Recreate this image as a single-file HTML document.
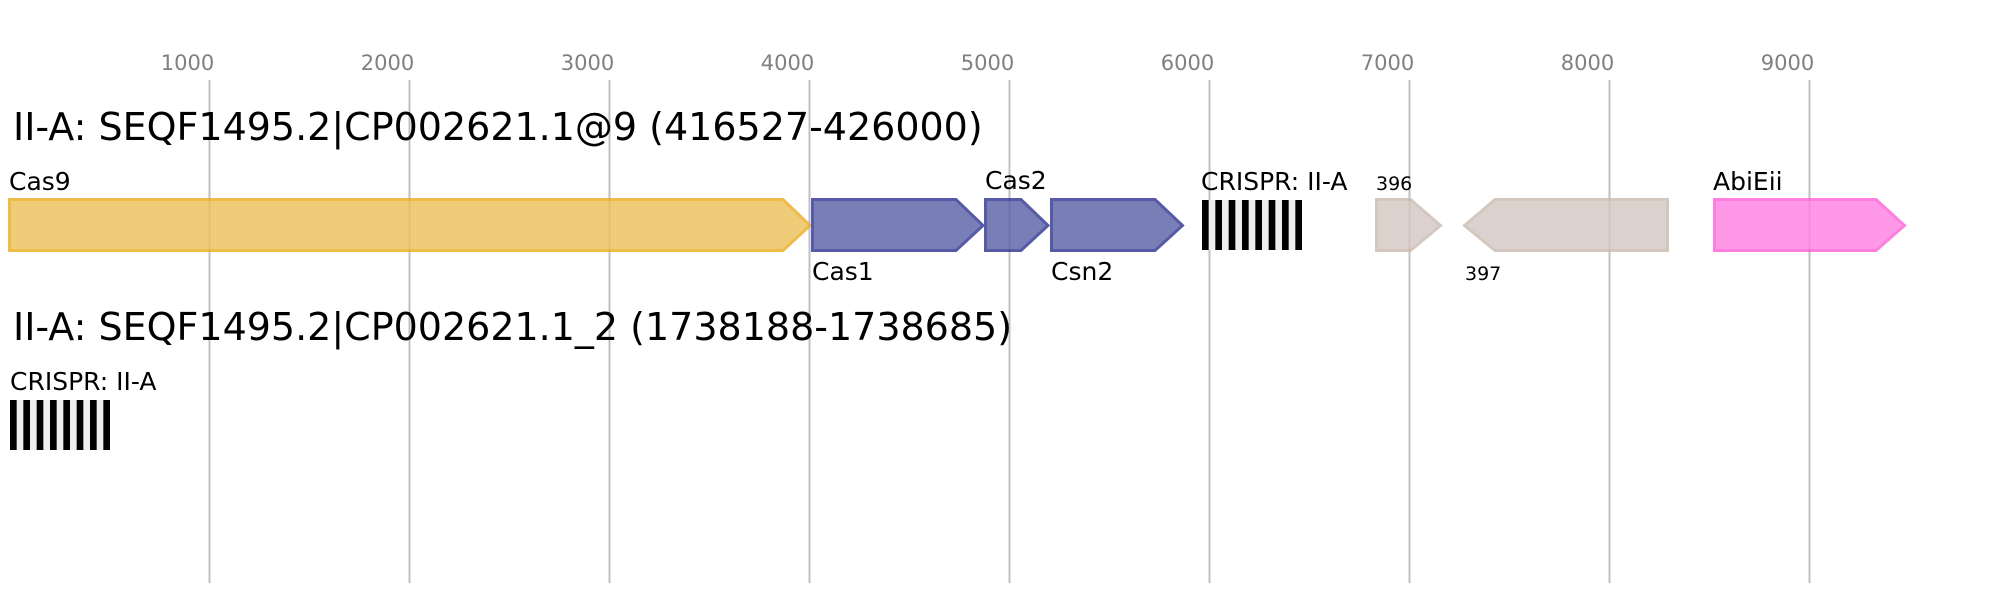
<!DOCTYPE html>
<html>
<head>
<meta charset="utf-8">
<style>
html,body{margin:0;padding:0;background:#fff;}
svg{display:block;}
text{font-family:"DejaVu Sans","Liberation Sans",sans-serif;}
</style>
</head>
<body>
<svg width="1995" height="600" viewBox="0 0 1995 600" xmlns="http://www.w3.org/2000/svg">
<rect width="1995" height="600" fill="#ffffff"/>
<!-- grid -->
<g stroke="#c0c0c0" stroke-width="2">
<line x1="209.5" y1="80" x2="209.5" y2="583"/>
<line x1="409.5" y1="80" x2="409.5" y2="583"/>
<line x1="609.5" y1="80" x2="609.5" y2="583"/>
<line x1="809.5" y1="80" x2="809.5" y2="583"/>
<line x1="1009.5" y1="80" x2="1009.5" y2="583"/>
<line x1="1209.5" y1="80" x2="1209.5" y2="583"/>
<line x1="1409.5" y1="80" x2="1409.5" y2="583"/>
<line x1="1609.5" y1="80" x2="1609.5" y2="583"/>
<line x1="1809.5" y1="80" x2="1809.5" y2="583"/>
</g>
<g fill="#808080" font-size="21" text-anchor="middle">
<text x="187.5" y="70">1000</text>
<text x="387.5" y="70">2000</text>
<text x="587.5" y="70">3000</text>
<text x="787.5" y="70">4000</text>
<text x="987.5" y="70">5000</text>
<text x="1187.5" y="70">6000</text>
<text x="1387.5" y="70">7000</text>
<text x="1587.5" y="70">8000</text>
<text x="1787.5" y="70">9000</text>
</g>

<text x="13" y="140" font-size="38" fill="#000">II-A: SEQF1495.2|CP002621.1@9 (416527-426000)</text>
<text x="13" y="340" font-size="38" fill="#000">II-A: SEQF1495.2|CP002621.1_2 (1738188-1738685)</text>

<!-- genes -->
<g opacity="0.8" stroke-width="3" stroke-linejoin="miter">
<polygon points="9.5,199.5 783,199.5 810,225.5 783,250.5 9.5,250.5" fill="#ecc056" stroke="#ecac1d"/>
<polygon points="812.5,199.5 956,199.5 983,225.5 956,250.5 812.5,250.5" fill="#5a5ea4" stroke="#2e3392"/>
<polygon points="985.5,199.5 1021,199.5 1048,225.5 1021,250.5 985.5,250.5" fill="#5a5ea4" stroke="#2e3392"/>
<polygon points="1051.5,199.5 1155,199.5 1182.5,225.5 1155,250.5 1051.5,250.5" fill="#5a5ea4" stroke="#2e3392"/>
<polygon points="1376.5,199.5 1410.5,199.5 1440.5,225.5 1410.5,250.5 1376.5,250.5" fill="#d3c8c2" stroke="#c9baae"/>
<polygon points="1464.5,225.5 1495,199.5 1667.5,199.5 1667.5,250.5 1495,250.5" fill="#d3c8c2" stroke="#c9baae"/>
<polygon points="1714.5,199.5 1876,199.5 1904.5,225.5 1876,250.5 1714.5,250.5" fill="#ff80e2" stroke="#ff5ed8"/>
</g>

<!-- CRISPR arrays -->
<g>
<rect x="1202" y="200" width="100" height="50" fill="#eeeeee"/>
<g fill="#000">
<rect x="1202" y="200" width="6.67" height="50"/>
<rect x="1215.33" y="200" width="6.67" height="50"/>
<rect x="1228.67" y="200" width="6.67" height="50"/>
<rect x="1242" y="200" width="6.67" height="50"/>
<rect x="1255.33" y="200" width="6.67" height="50"/>
<rect x="1268.67" y="200" width="6.67" height="50"/>
<rect x="1282" y="200" width="6.67" height="50"/>
<rect x="1295.33" y="200" width="6.67" height="50"/>
</g>
<rect x="10" y="400" width="100" height="50" fill="#eeeeee"/>
<g fill="#000">
<rect x="10" y="400" width="6.67" height="50"/>
<rect x="23.33" y="400" width="6.67" height="50"/>
<rect x="36.67" y="400" width="6.67" height="50"/>
<rect x="50" y="400" width="6.67" height="50"/>
<rect x="63.33" y="400" width="6.67" height="50"/>
<rect x="76.67" y="400" width="6.67" height="50"/>
<rect x="90" y="400" width="6.67" height="50"/>
<rect x="103.33" y="400" width="6.67" height="50"/>
</g>
</g>

<!-- labels -->
<g fill="#000" font-size="25">
<text x="9" y="190">Cas9</text>
<text x="985" y="189">Cas2</text>
<text x="1201" y="190">CRISPR: II-A</text>
<text x="1713" y="190">AbiEii</text>
<text x="812" y="280">Cas1</text>
<text x="1051" y="280">Csn2</text>
<text x="10" y="390">CRISPR: II-A</text>
</g>
<g fill="#000" font-size="19">
<text x="1376" y="190">396</text>
<text x="1465" y="280">397</text>
</g>
</svg>
</body>
</html>
